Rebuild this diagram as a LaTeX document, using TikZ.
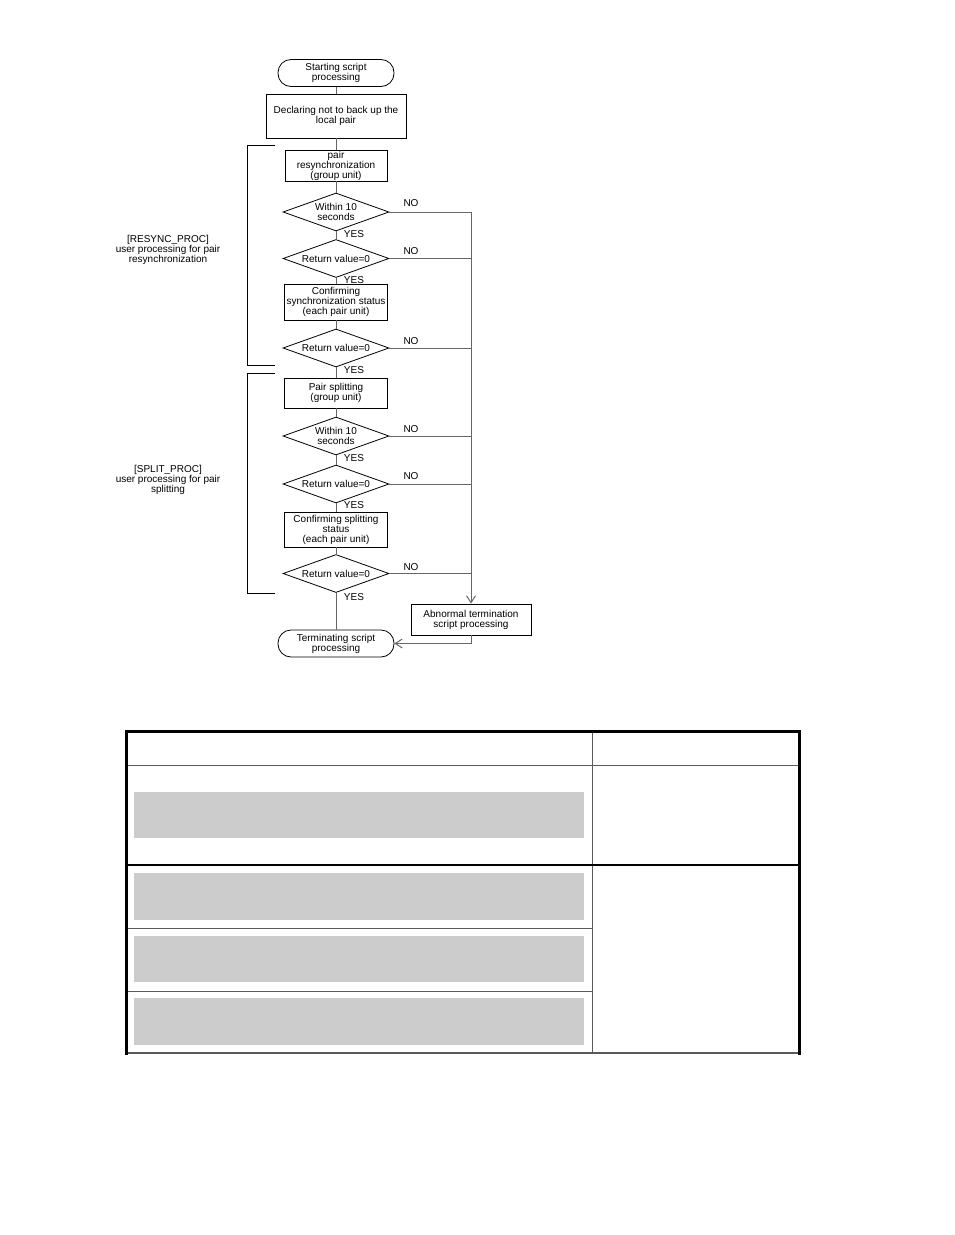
\documentclass[tikz,border=0pt]{standalone}
\usepackage{fontspec}
\setmainfont{Liberation Sans}
\usetikzlibrary{shapes.geometric,arrows.meta}
\newcommand\ffs{\fontsize{10}{10}\selectfont}
\begin{document}
\begin{tikzpicture}[x=1pt,y=-1pt,
  every node/.style={font=\ffs, align=center, inner sep=0pt},
  term/.style={draw, rectangle, rounded corners=13pt, minimum width=116pt, minimum height=27pt, line width=0.8pt},
  proc/.style={draw, rectangle, line width=0.8pt},
  dec/.style={draw, diamond, aspect=2.8, minimum width=106pt, minimum height=38pt, line width=0.8pt},
  conn/.style={draw=black!60, line width=1pt},
  arr/.style={conn, -{Straight Barb[length=7pt,width=9pt]}},
  brk/.style={line width=0.9pt},
  gbox/.style={fill=black!20, draw=none},
  tline/.style={draw=black!65, line width=1pt}
]
\fill[white] (0,0) rectangle (954,1235);
\useasboundingbox (0,0) rectangle (954,1235);

% flowchart nodes
\node[term] (start) at (336,73) {Starting script\\processing};
\node[proc, minimum width=140pt, minimum height=44pt] (decl) at (336,116) {Declaring not to back up the\\local pair};
\node[proc, minimum width=102pt, minimum height=31pt] (resync) at (336,165.5) {pair\\resynchronization\\(group unit)};
\node[dec] (d1) at (336,212) {Within 10\\seconds};
\node[dec] (d2) at (336,258.5) {Return value=0};
\node[proc, minimum width=103pt, minimum height=36pt] (conf1) at (336,302) {Confirming\\synchronization status\\(each pair unit)};
\node[dec] (d3) at (336,348) {Return value=0};
\node[proc, minimum width=103pt, minimum height=30pt] (split) at (336,393) {Pair splitting\\(group unit)};
\node[dec] (d4) at (336,436) {Within 10\\seconds};
\node[dec] (d5) at (336,484) {Return value=0};
\node[proc, minimum width=103pt, minimum height=35pt] (conf2) at (336,529.5) {Confirming splitting\\status\\(each pair unit)};
\node[dec] (d6) at (336,573.5) {Return value=0};
\node[term] (end) at (336,643.5) {Terminating script\\processing};
\node[proc, minimum width=120pt, minimum height=31pt] (abn) at (471,619.5) {Abnormal termination\\script processing};

% main flow
\draw[conn] (start) -- (decl);
\draw[conn] (decl) -- (resync);
\draw[conn] (resync) -- (d1);
\draw[conn] (d1) -- (d2);
\draw[conn] (d2) -- (conf1);
\draw[conn] (conf1) -- (d3);
\draw[conn] (d3) -- (split);
\draw[conn] (split) -- (d4);
\draw[conn] (d4) -- (d5);
\draw[conn] (d5) -- (conf2);
\draw[conn] (conf2) -- (d6);
\draw[conn] (d6) -- (end);

% NO branches
\coordinate (rtop) at (471,212);
\draw[conn] (d1.east) -- (rtop);
\draw[arr] (rtop) -- (abn.north);
\draw[conn] (d2.east) -- (d2.east -| rtop);
\draw[conn] (d3.east) -- (d3.east -| rtop);
\draw[conn] (d4.east) -- (d4.east -| rtop);
\draw[conn] (d5.east) -- (d5.east -| rtop);
\draw[conn] (d6.east) -- (d6.east -| rtop);
\draw[arr] (abn.south) |- (end.east);

% labels
\node (no1) at (411,203) {NO};
\node (no2) at (411,251) {NO};
\node (no3) at (411,341) {NO};
\node (no4) at (411,429.5) {NO};
\node (no5) at (411,476.5) {NO};
\node (no6) at (411,567) {NO};
\node (y1) at (354,234) {YES};
\node (y2) at (354,280) {YES};
\node (y3) at (354,370) {YES};
\node (y4) at (354,458) {YES};
\node (y5) at (354,505.5) {YES};
\node (y6) at (354,597) {YES};

% brackets
\draw[brk] (275,145) -- (247,145) -- (247,365) -- (275,365);
\draw[brk] (275,373) -- (247,373) -- (247,593) -- (275,593);
\node (lab1) at (168,250) {[RESYNC\_PROC]\\user processing for pair\\resynchronization};
\node (lab2) at (168,480) {[SPLIT\_PROC]\\user processing for pair\\splitting};

% table
\fill[black!20] (134,792) rectangle (584,838);
\fill[black!20] (134,873) rectangle (584,920);
\fill[black!20] (134,936) rectangle (584,982);
\fill[black!20] (134,998) rectangle (584,1045);
\draw[tline] (592,731) -- (592,1053);
\draw[tline] (126,765) -- (799,765);
\draw[black, line width=1.5pt] (126,865) -- (799,865);
\draw[tline] (126,928) -- (592,928);
\draw[tline] (126,991) -- (592,991);
\draw[black!65, line width=1.2pt] (126,1053) -- (799,1053);
\draw[black, line width=3pt] (126,1055) -- (126,731) -- (799,731) -- (799,1055);
\end{tikzpicture}
\end{document}
